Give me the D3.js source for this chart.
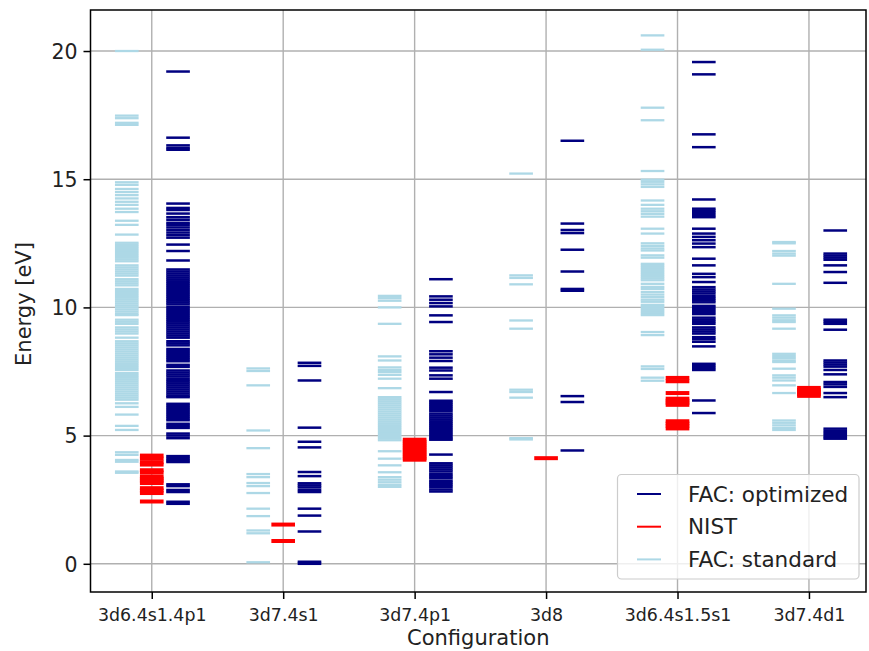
<!DOCTYPE html>
<html><head><meta charset="utf-8">
<script src="https://cdn.jsdelivr.net/npm/d3@7/dist/d3.min.js"></script>
<style>body{margin:0;background:#fff;} svg{display:block;font-family:"DejaVu Sans",sans-serif;}</style>
</head><body><svg id="c" width="869" height="651"></svg>
<script>
const categories = ["3d6.4s1.4p1","3d7.4s1","3d7.4p1","3d8","3d6.4s1.5s1","3d7.4d1"];
const yTicks = [0,5,10,15,20];
const legendLabels = ["FAC: optimized","NIST","FAC: standard"];

// FAC: standard (light blue), per configuration
const std0 = [20.0,17.48,17.38,17.2,17.12,
 14.88,14.78,14.62,14.5,14.38,14.25,14.12,14.0,13.85,13.72,13.38,13.22,12.84,
 12.52,12.44,12.36,12.28,12.2,12.12,12.04,11.96,11.88,11.8,11.64,11.56,11.48,11.4,11.32,11.24,11.1,11.02,10.94,10.86,
 10.72,10.64,10.56,10.48,10.4,10.32,10.24,10.16,10.08,10.0,9.92,9.84,9.76,9.7,
 9.52,9.44,9.36,9.22,9.14,9.06,8.98,8.82,8.68,8.6,8.52,8.44,8.36,8.28,8.2,8.12,8.04,7.96,7.88,7.8,7.72,7.64,7.56,
 7.44,7.36,7.28,7.2,7.12,7.04,6.96,6.88,6.8,6.72,6.64,6.56,6.48,6.4,6.26,6.12,5.82,5.38,5.22,4.35,4.25,4.05,3.98,3.6,3.55];
const std1 = [7.62,7.52,6.96,5.2,4.51,3.5,3.38,3.15,3.03,2.76,2.15,1.86,1.3,1.19,0.06];
const std2 = [10.45,10.36,10.26,10.0,9.36,8.09,7.93,7.66,7.56,7.48,7.37,7.22,6.85,
 6.5,6.42,6.34,6.26,6.18,6.1,6.02,5.94,5.86,5.78,5.7,5.62,5.54,5.46,5.38,5.3,5.22,5.14,5.06,4.98,4.9,4.82,
 4.39,4.1,3.84,3.57,3.38,3.28,3.18,3.08,3.0];
const std3 = [15.22,11.25,11.15,10.9,9.49,9.17,6.79,6.7,6.48,4.9,4.85];
const std4 = [20.61,20.05,17.79,17.3,15.32,14.98,14.9,14.8,14.7,14.17,14.0,13.85,13.75,13.65,13.54,13.07,12.88,
 12.5,12.4,12.3,12.22,12.03,11.94,11.7,11.62,11.54,11.46,11.38,11.3,11.22,11.14,11.06,10.92,10.8,10.72,10.6,10.5,10.4,
 10.3,10.22,10.1,10.02,9.94,9.86,9.78,9.7,9.04,8.92,7.7,7.6,7.26,7.14];
const std5 = [12.55,12.5,12.2,12.1,12.02,10.92,9.95,9.69,9.6,9.5,9.43,9.17,8.19,8.1,8.02,7.93,7.87,7.61,7.35,7.26,7.15,6.96,6.66,5.59,5.5,5.4,5.3,5.22];
const facStandard = [std0,std1,std2,std3,std4,std5];

// NIST (red)
const nist0 = [4.22,4.1,3.96,3.87,3.65,3.56,3.4,3.32,3.24,3.15,2.95,2.86,2.76,2.43];
const nist1 = [1.53,0.89];
const nist2 = [4.84,4.76,4.68,4.6,4.52,4.44,4.36,4.28,4.2,4.12,4.06];
const nist3 = [4.12];
const nist4 = [7.25,7.12,6.66,6.44,6.36,6.28,6.2,5.56,5.47,5.38,5.28];
const nist5 = [6.86,6.78,6.7,6.62,6.55];
const nistLevels = [nist0,nist1,nist2,nist3,nist4,nist5];

// FAC: optimized (navy)
const opt0 = [19.2,16.62,16.32,16.22,16.15,
 14.05,13.88,13.8,13.66,13.52,13.42,13.3,13.22,13.12,13.02,12.92,12.82,12.72,12.45,12.2,11.83,
 11.48,11.4,11.32,11.24,11.16,11.08,11.0,10.92,10.84,10.76,10.68,10.6,10.52,10.44,
 10.36,10.28,10.2,10.12,10.02,9.94,9.86,9.78,9.7,9.62,9.54,9.46,9.38,9.3,9.22,9.14,9.06,8.98,8.9,8.82,
 8.68,8.6,8.52,8.38,8.3,8.22,8.14,8.06,7.98,7.9,7.76,7.68,7.54,7.46,7.38,7.3,7.2,7.12,7.04,6.96,6.88,6.8,6.72,6.64,6.56,6.5,
 6.24,6.16,6.08,6.0,5.92,5.84,5.76,5.68,5.6,5.46,5.38,5.3,5.08,5.0,4.9,4.2,4.12,4.04,3.97,3.1,3.03,2.88,2.8,2.42,2.34];
const opt1 = [7.84,7.72,7.15,5.31,4.76,4.54,3.58,3.42,3.14,3.06,2.98,2.88,2.8,2.15,1.88,1.26,0.08,0.0];
const opt2 = [11.1,10.43,10.3,10.17,10.04,9.69,9.43,8.29,8.17,8.04,7.91,7.65,7.54,7.35,7.22,6.7,
 6.36,6.28,6.2,6.12,6.04,5.96,5.86,5.78,5.7,5.62,5.54,5.46,5.38,5.3,5.22,5.14,5.06,4.98,4.9,4.84,4.26,
 3.92,3.84,3.76,3.68,3.6,3.5,3.42,3.34,3.24,3.16,3.08,3.0,2.9,2.82];
const opt3 = [16.5,13.27,13.02,12.9,12.25,11.4,10.72,10.65,6.54,6.31,4.42];
const opt4 = [19.57,19.09,16.75,16.25,14.21,13.85,13.77,13.69,13.6,13.52,13.07,12.88,12.75,12.62,12.49,12.35,11.9,11.64,11.31,11.18,10.99,
 10.79,10.7,10.62,10.54,10.44,10.36,10.28,10.2,10.06,9.98,9.9,9.82,9.74,9.6,9.52,9.44,9.36,9.22,9.14,9.06,8.98,8.84,8.76,8.66,8.48,
 7.8,7.72,7.64,7.56,6.37,5.88];
const opt5 = [13.0,12.1,12.02,11.94,11.86,11.64,11.38,10.96,9.52,9.44,9.36,9.13,7.93,7.85,7.77,7.69,7.56,7.39,7.09,7.0,6.9,6.66,6.5,5.27,5.18,5.1,5.02,4.94,4.88];
const facOptimized = [opt0,opt1,opt2,opt3,opt4,opt5];

// ---- styling / layout ----
const L = 90.5, R = 866, T = 10, B = 592;
const svg = d3.select("#c");
const x = d3.scaleLinear().domain([-0.466, 5.434]).range([L, R]);
const y = d3.scaleLinear().domain([-1.1, 21.6]).range([B, T]);

const gridColor = "#b0b0b0";
svg.append("g").selectAll("line").data(yTicks).join("line")
  .attr("x1", L).attr("x2", R).attr("y1", d => y(d)).attr("y2", d => y(d))
  .attr("stroke", gridColor).attr("stroke-width", 1.4);
svg.append("g").selectAll("line").data(categories).join("line")
  .attr("x1", (d,i) => x(i)).attr("x2", (d,i) => x(i)).attr("y1", T).attr("y2", B)
  .attr("stroke", gridColor).attr("stroke-width", 1.4);

const series = [
  {data: facStandard, color: "#add8e6", lo: -0.28, hi: -0.1, w: 2.3},
  {data: nistLevels, color: "#ff0000", lo: -0.09, hi: 0.09, w: 4},
  {data: facOptimized, color: "#000080", lo: 0.11, hi: 0.29, w: 2.5}
];
series.forEach(s => {
  const g = svg.append("g");
  s.data.forEach((levels, i) => {
    g.append("g").selectAll("line").data(levels).join("line")
      .attr("x1", x(i + s.lo)).attr("x2", x(i + s.hi))
      .attr("y1", d => y(d)).attr("y2", d => y(d))
      .attr("stroke", s.color).attr("stroke-width", s.w);
  });
});

const yAxis = svg.append("g").attr("transform", `translate(${L},0)`)
  .call(d3.axisLeft(y).tickValues(yTicks).tickSize(7).tickPadding(6).tickFormat(d3.format("d")));
const xAxis = svg.append("g").attr("transform", `translate(0,${B})`)
  .call(d3.axisBottom(x).tickValues(d3.range(categories.length)).tickSize(7).tickPadding(7).tickFormat(i => categories[i]));
[yAxis, xAxis].forEach(a => {
  a.select(".domain").remove();
  a.selectAll(".tick line").attr("stroke", "#000").attr("stroke-width", 1.5);
  a.selectAll("text").attr("fill", "#222").attr("font-family", "DejaVu Sans");
});
yAxis.selectAll("text").attr("font-size", 20.5).attr("dy", "0.36em");
xAxis.selectAll("text").attr("font-size", 17.4).attr("dy", "0.85em");

svg.append("rect").attr("x", L).attr("y", T).attr("width", R - L).attr("height", B - T)
  .attr("fill", "none").attr("stroke", "#000").attr("stroke-width", 1.5);

svg.append("text").attr("x", (L + R) / 2).attr("y", 645).attr("text-anchor", "middle")
  .attr("font-size", 21).attr("fill", "#222").text("Configuration");
svg.append("text").attr("transform", `translate(31,${(T + B) / 2 + 3}) rotate(-90)`).attr("text-anchor", "middle")
  .attr("font-size", 21).attr("fill", "#222").text("Energy [eV]");

const lg = svg.append("g");
lg.append("rect").attr("x", 617.5).attr("y", 474.5).attr("width", 241.5).attr("height", 104.5).attr("rx", 4)
  .attr("fill", "#fff").attr("fill-opacity", 0.8).attr("stroke", "#cccccc").attr("stroke-width", 1.2);
const legendColors = ["#000080", "#ff0000", "#add8e6"];
legendLabels.forEach((lab, k) => {
  const yy = 494 + k * 32.7;
  lg.append("line").attr("x1", 637).attr("x2", 661).attr("y1", yy).attr("y2", yy)
    .attr("stroke", legendColors[k]).attr("stroke-width", 2);
  lg.append("text").attr("x", 688).attr("y", yy + 7.5).attr("font-size", 21.5).attr("fill", "#222").text(lab);
});
</script></body></html>
